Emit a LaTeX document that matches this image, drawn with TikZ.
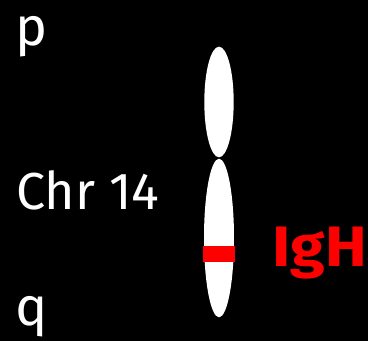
\documentclass[tikz,border=0pt]{standalone}
\usepackage{fontspec}
\setmainfont{Fira Sans}
\begin{document}
\begin{tikzpicture}[x=1pt,y=1pt,
  txt/.style={inner sep=0pt, anchor=base west, text=white, font=\fontsize{52}{52}\selectfont},
  arm/.style={fill=white, draw=none},
  band/.style={fill=red, draw=none}]
  % black canvas
  \fill[black] (0,0) rectangle (368,341);
  \useasboundingbox (0,0) rectangle (368,341);
  % chromosome arms
  \fill[arm] (219,239) ellipse [x radius=14.7, y radius=55.3];
  \fill[arm] (219,103) ellipse [x radius=15, y radius=79.3];
  % IgH locus band
  \fill[band] (203,79) rectangle (235,95);
  % labels
  \node[txt, font=\fontsize{54}{54}\selectfont] (p) at (15,295) {p};
  \node[txt] (chr) at (16,131) {Chr 14};
  \node[txt, font=\fontsize{54}{54}\selectfont] (q) at (15,15) {q};
  \node[txt, text=red, font=\fontsize{57}{57}\selectfont\bfseries,
        xscale=1.1, transform shape] (igh) at (272,74) {IgH};
\end{tikzpicture}
\end{document}
